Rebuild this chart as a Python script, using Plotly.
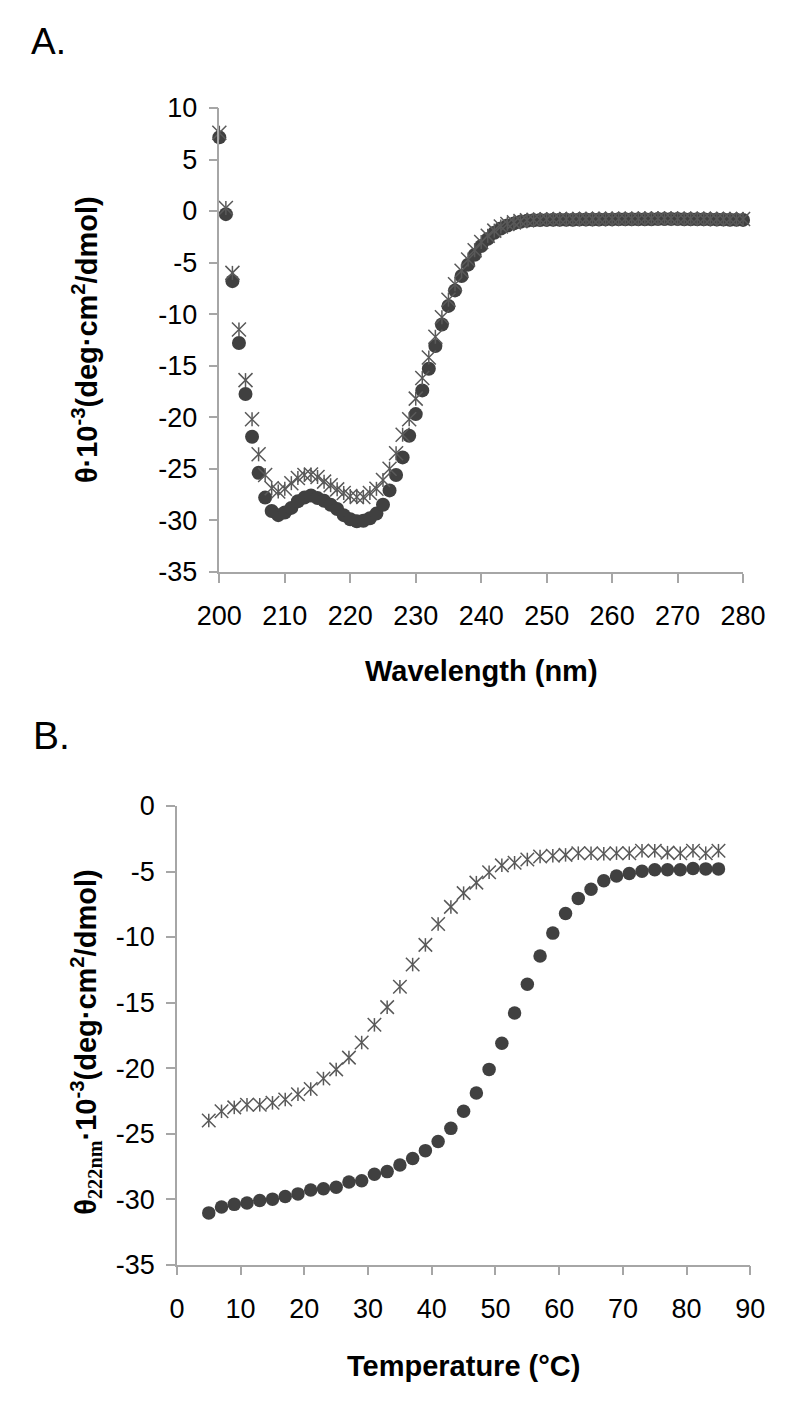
import plotly.graph_objects as go

# ---------------- data ----------------
wavelength_nm = list(range(200, 281))
theta_a_circle = [
    7.15, -0.3, -6.8, -12.8, -17.75, -21.9, -25.4, -27.8, -29.1, -29.5,
    -29.25, -28.8, -28.15, -27.8, -27.6, -27.85, -28.1, -28.5, -28.9, -29.5,
    -29.9, -30.1, -30.05, -29.8, -29.35, -28.5, -27.1, -25.6, -23.9, -21.8,
    -19.7, -17.4, -15.3, -13.1, -11.0, -9.2, -7.7, -6.3, -5.2, -4.25,
    -3.4, -2.7, -2.1, -1.7, -1.4, -1.2, -1.05, -0.95, -0.9, -0.88,
    -0.86, -0.85, -0.85, -0.84, -0.84, -0.83, -0.83, -0.82, -0.82, -0.81,
    -0.81, -0.80, -0.80, -0.80, -0.79, -0.79, -0.79, -0.78, -0.78, -0.78,
    -0.78, -0.79, -0.79, -0.80, -0.80, -0.81, -0.82, -0.83, -0.84, -0.85,
    -0.86,
]
theta_a_star = [
    7.6, 0.3, -6.0, -11.5, -16.4, -20.2, -23.6, -25.6, -26.9, -27.2,
    -26.95, -26.4, -25.9, -25.6, -25.55, -25.8, -26.25, -26.6, -27.0, -27.35,
    -27.65, -27.75, -27.75, -27.35, -26.95, -26.1, -25.0, -23.5, -21.7, -20.2,
    -18.2, -16.2, -14.2, -12.2, -10.3, -8.6, -7.1, -5.8, -4.7, -3.8,
    -3.0, -2.4, -1.9, -1.5, -1.25, -1.1, -0.98, -0.9, -0.85, -0.82,
    -0.80, -0.79, -0.78, -0.78, -0.77, -0.77, -0.76, -0.76, -0.76, -0.75,
    -0.75, -0.75, -0.74, -0.74, -0.74, -0.73, -0.73, -0.73, -0.73, -0.73,
    -0.74, -0.74, -0.74, -0.75, -0.75, -0.76, -0.76, -0.77, -0.77, -0.78,
    -0.78,
]

temperature_c = list(range(5, 86, 2))
theta_b_circle = [
    -31.05, -30.6, -30.4, -30.3, -30.1, -30.0, -29.8, -29.6, -29.3, -29.2,
    -29.1, -28.7, -28.6, -28.1, -27.9, -27.4, -26.9, -26.3, -25.6, -24.6,
    -23.3, -21.9, -20.1, -18.1, -15.8, -13.6, -11.45, -9.7, -8.2, -7.05,
    -6.35, -5.7, -5.35, -5.15, -4.98, -4.86, -4.86, -4.86, -4.77, -4.8,
    -4.8,
]
theta_b_star = [
    -24.0, -23.3, -23.0, -22.8, -22.8, -22.65, -22.4, -22.0, -21.6, -20.8,
    -20.1, -19.2, -18.05, -16.7, -15.35, -13.8, -12.1, -10.6, -9.0, -7.7,
    -6.65, -5.85, -5.05, -4.53, -4.33, -4.08, -3.86, -3.8, -3.73, -3.6,
    -3.6, -3.65, -3.6, -3.6, -3.41, -3.41, -3.56, -3.6, -3.41, -3.6,
    -3.41,
]

a_x_ticks = [200, 210, 220, 230, 240, 250, 260, 270, 280]
a_y_ticks = [10, 5, 0, -5, -10, -15, -20, -25, -30, -35]
a_y_ticktext = ["10", "5", "0", "-5", "-10", "-15", "-20", "-25", "-30", "-35"]
b_x_ticks = [0, 10, 20, 30, 40, 50, 60, 70, 80, 90]
b_y_ticks = [0, -5, -10, -15, -20, -25, -30, -35]
b_y_ticktext = ["0", "-5", "-10", "-15", "-20", "-25", "-30", "-35"]

# ---------------- layout helpers ----------------
W, H = 800, 1401


def fx(p):
    return p / W


def fy(p):
    return 1 - p / H


FONT = "Liberation Sans, Arial, sans-serif"
AXIS_GRAY = "#a6a6a6"
CIRCLE_COLOR = "#404040"
STAR_COLOR = "#595959"

fig = go.Figure()


def add_series(x, yc, ys, xa, ya, csize, ssize):
    fig.add_trace(go.Scatter(
        x=x, y=yc, mode="markers", xaxis=xa, yaxis=ya, cliponaxis=False,
        marker=dict(symbol="circle", size=csize, color=CIRCLE_COLOR, line=dict(width=0)),
        showlegend=False, hoverinfo="x+y"))
    fig.add_trace(go.Scatter(
        x=x, y=ys, mode="markers", xaxis=xa, yaxis=ya, cliponaxis=False,
        marker=dict(symbol="x-thin-open", size=ssize, color=STAR_COLOR,
                    line=dict(width=1.5, color=STAR_COLOR)),
        showlegend=False, hoverinfo="x+y"))
    fig.add_trace(go.Scatter(
        x=x, y=ys, mode="markers", xaxis=xa, yaxis=ya, cliponaxis=False,
        marker=dict(symbol="line-ns-open", size=ssize / 1.4, color=STAR_COLOR,
                    line=dict(width=1.5, color=STAR_COLOR)),
        showlegend=False, hoverinfo="skip"))


add_series(wavelength_nm, theta_a_circle, theta_a_star, "x", "y", 14, 14)
add_series(temperature_c, theta_b_circle, theta_b_star, "x2", "y2", 13.5, 13.5)

axis_common = dict(
    showline=True, linecolor=AXIS_GRAY, linewidth=1.5,
    ticks="outside", ticklen=9, tickwidth=1.5, tickcolor=AXIS_GRAY,
    showgrid=False, zeroline=False, mirror=False,
    tickfont=dict(family=FONT, size=27, color="#000000"),
)

fig.update_layout(
    width=W, height=H, autosize=False,
    margin=dict(l=0, r=0, t=0, b=0),
    paper_bgcolor="white", plot_bgcolor="white",
    xaxis=dict(domain=[fx(208.3), fx(764)], anchor="y", range=[200, 280],
               tickvals=a_x_ticks, ticklabelstandoff=10, **axis_common),
    yaxis=dict(domain=[fy(569), fy(95)], anchor="x", range=[-35, 10],
               tickvals=a_y_ticks, ticktext=a_y_ticktext, ticklabelstandoff=6,
               **axis_common),
    xaxis2=dict(domain=[fx(163.3), fx(771.7)], anchor="y2", range=[0, 90],
                tickvals=b_x_ticks, ticklabelstandoff=10, **axis_common),
    yaxis2=dict(domain=[fy(1277), fy(808.3)], anchor="x2", range=[-35, 0],
                tickvals=b_y_ticks, ticktext=b_y_ticktext, ticklabelstandoff=6,
                **axis_common),
)

title_font = dict(family=FONT, size=29, color="#000000")
ann = [
    dict(text="A.", x=fx(6), y=fy(4), xanchor="left", yanchor="top",
         font=dict(family=FONT, size=37, color="#000000")),
    dict(text="B.", x=fx(8), y=fy(712), xanchor="left", yanchor="top",
         font=dict(family=FONT, size=39, color="#000000")),
    dict(text="<b>Wavelength (nm)</b>", x=fx(486), y=fy(670),
         xanchor="center", yanchor="middle", font=title_font),
    dict(text="<b>Temperature (°C)</b>", x=fx(467.5), y=fy(1381),
         xanchor="center", yanchor="middle", font=title_font),
    dict(text="<b>θ·10<sup>-3</sup>(deg·cm<sup>2</sup>/dmol)</b>",
         x=fx(66), y=fy(332), xanchor="center", yanchor="middle",
         textangle=-90, font=title_font),
    dict(text="<b>θ<sub><span style='font-family:Liberation Serif, Times New Roman, serif'>222nm</span></sub>·10<sup>-3</sup>(deg·cm<sup>2</sup>/dmol)</b>",
         x=fx(66), y=fy(1050), xanchor="center", yanchor="middle",
         textangle=-90, font=title_font),
]
for a in ann:
    a.update(xref="paper", yref="paper", showarrow=False)
fig.update_layout(annotations=ann)

fig.write_html("out.html", config={"displayModeBar": False},
               post_script="document.body.style.margin='0';document.body.style.padding='0';")
